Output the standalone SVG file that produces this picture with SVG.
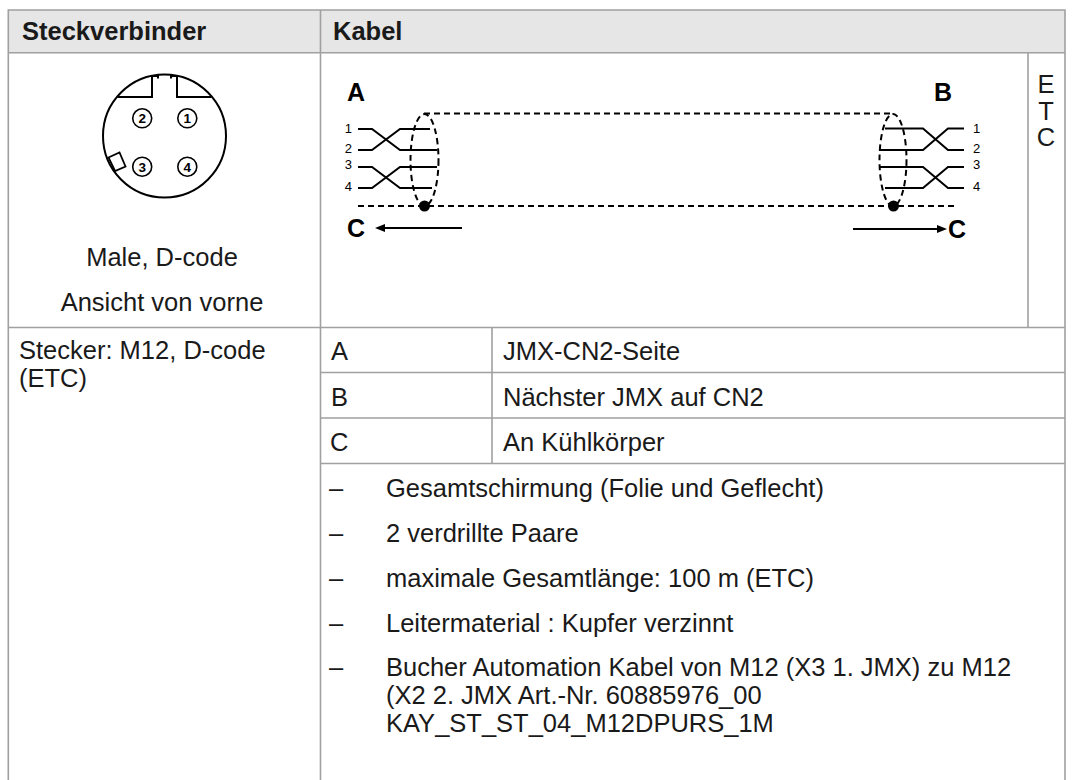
<svg xmlns="http://www.w3.org/2000/svg" width="1075" height="780" viewBox="0 0 1075 780">
<style>
.grid{stroke:#a0a0a0;stroke-width:1.6;fill:none}
.t{font-family:"Liberation Sans",Arial,sans-serif;font-size:25.5px;fill:#1a1a1a}
.b{font-weight:bold;font-size:25.5px}
.w{stroke:#000;stroke-width:2;fill:none;stroke-linejoin:miter}
.d{stroke:#000;stroke-width:2;fill:none;stroke-dasharray:6,4}
.n{font-family:"Liberation Sans",Arial,sans-serif;font-size:13px;fill:#000}
.lb{font-family:"Liberation Sans",Arial,sans-serif;font-size:25px;font-weight:bold;fill:#000}
.pin{stroke:#000;stroke-width:1.6;fill:#fff}
.pn{font-family:"Liberation Sans",Arial,sans-serif;font-size:13.5px;font-weight:bold;fill:#000;text-anchor:middle}
</style>
<rect x="0" y="0" width="1075" height="780" fill="#fff"/>
<g id="table">
<rect x="8.3" y="10" width="1056.7" height="42.7" fill="#e6e6e6"/>
<path class="grid" d="M8.3,780 V10 H1065 V780 M8.3,52.7 H1065 M320.5,10 V780 M1028,52.7 V327.5 M8.3,327.5 H1065 M320.5,372.5 H1065 M320.5,418 H1065 M320.5,463.5 H1065 M492,327.5 V463.5"/>
<text class="t b" x="22" y="40">Steckverbinder</text>
<text class="t b" x="333" y="40">Kabel</text>
<text class="t" x="162" y="266" text-anchor="middle">Male, D-code</text>
<text class="t" x="162" y="311" text-anchor="middle">Ansicht von vorne</text>
<text class="t" x="19" y="359">Stecker: M12, D-code</text>
<text class="t" x="19" y="387">(ETC)</text>
<text class="t" x="331" y="360">A</text>
<text class="t" x="503" y="360">JMX-CN2-Seite</text>
<text class="t" x="331" y="405.5">B</text>
<text class="t" x="503" y="405.5">Nächster JMX auf CN2</text>
<text class="t" x="330" y="451">C</text>
<text class="t" x="503" y="451">An Kühlkörper</text>
<g id="list">
<text class="t" x="329" y="497">–</text><text class="t" x="386" y="497">Gesamtschirmung (Folie und Geflecht)</text>
<text class="t" x="329" y="542">–</text><text class="t" x="386" y="542">2 verdrillte Paare</text>
<text class="t" x="329" y="587">–</text><text class="t" x="386" y="587">maximale Gesamtlänge: 100 m (ETC)</text>
<text class="t" x="329" y="632">–</text><text class="t" x="386" y="632">Leitermaterial : Kupfer verzinnt</text>
<text class="t" x="329" y="676">–</text><text class="t" x="386" y="676">Bucher Automation Kabel von M12 (X3 1. JMX) zu M12</text>
<text class="t" x="386" y="704">(X2 2. JMX Art.-Nr. 60885976_00</text>
<text class="t" x="386" y="732">KAY_ST_ST_04_M12DPURS_1M</text>
</g>
<g id="etc">
<text class="t" x="1046" y="93" text-anchor="middle">E</text>
<text class="t" x="1046" y="120" text-anchor="middle">T</text>
<text class="t" x="1046" y="146" text-anchor="middle">C</text>
</g>
</g>
<g id="connector">
<circle cx="164.5" cy="136" r="61.5" fill="none" stroke="#000" stroke-width="2"/>
<path class="w" d="M117.5,97 H152 V76 H158 V78.5 M211.5,97 H177 V76 H171 V78.5"/>
<polygon points="108.5,157.5 119.5,152.5 125.5,166.5 115,171" fill="#fff" stroke="#000" stroke-width="1.8"/>
<circle class="pin" cx="142.2" cy="118.3" r="9.5"/><text class="pn" x="142.2" y="123.2">2</text>
<circle class="pin" cx="187.3" cy="118.3" r="9.5"/><text class="pn" x="187.3" y="123.2">1</text>
<circle class="pin" cx="142.2" cy="166.7" r="9.5"/><text class="pn" x="142.2" y="171.6">3</text>
<circle class="pin" cx="187.3" cy="166.7" r="9.5"/><text class="pn" x="187.3" y="171.6">4</text>
</g>
<g id="cable">
<text class="lb" x="347" y="101">A</text>
<text class="lb" x="934" y="101">B</text>
<text class="n" x="352" y="133" text-anchor="end">1</text>
<text class="n" x="352" y="153" text-anchor="end">2</text>
<text class="n" x="352" y="168.5" text-anchor="end">3</text>
<text class="n" x="352" y="191" text-anchor="end">4</text>
<text class="n" x="973" y="133">1</text>
<text class="n" x="973" y="153">2</text>
<text class="n" x="973" y="168.5">3</text>
<text class="n" x="973" y="191">4</text>
<path class="w" d="M358,129 H372 L400,150 H437 M358,150 H372 L400,129 H430 M358,167 H372 L400,188 H432 M358,188 H372 L400,167 H437"/>
<path class="w" d="M964,128.5 H948 L923,150 H879 M964,150 H948 L923,128.5 H885 M964,167 H948 L923,188 H885 M964,188 H948 L923,167 H879"/>
<ellipse class="d" cx="424.5" cy="160" rx="14" ry="46"/>
<ellipse class="d" cx="893" cy="160" rx="13.5" ry="46"/>
<path class="d" d="M424,113.5 H893 M358,206 H958"/>
<circle cx="424.5" cy="206" r="5.5" fill="#000"/>
<circle cx="893.5" cy="206" r="5.5" fill="#000"/>
<text class="lb" x="347" y="237">C</text>
<text class="lb" x="948" y="238">C</text>
</g>
<g id="connectors">
<line x1="462" y1="228" x2="383" y2="228" stroke="#000" stroke-width="2"/>
<polygon points="375,228 385,224 385,232" fill="#000"/>
<line x1="853" y1="229" x2="939" y2="229" stroke="#000" stroke-width="2"/>
<polygon points="947,229 937,225 937,233" fill="#000"/>
</g>
</svg>
